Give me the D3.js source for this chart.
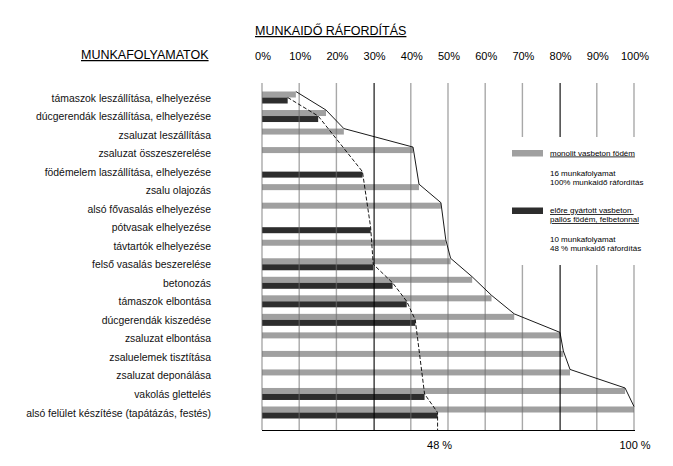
<!DOCTYPE html>
<html>
<head>
<meta charset="utf-8">
<script src="https://cdn.jsdelivr.net/npm/d3@7/dist/d3.min.js"></script>
<style>
  html, body { margin: 0; padding: 0; background: #fff; }
  svg { display: block; font-family: Arial, "Liberation Sans", sans-serif; }
</style>
</head>
<body>
<svg id="chart" width="673" height="466"></svg>
<script>
const tasks = [
  "támaszok leszállítása, elhelyezése",
  "dúcgerendák leszállítása, elhelyezése",
  "zsaluzat leszállítása",
  "zsaluzat összeszerelése",
  "födémelem laszállítása, elhelyezése",
  "zsalu olajozás",
  "alsó fővasalás elhelyezése",
  "pótvasak elhelyezése",
  "távtartók elhelyezése",
  "felső vasalás beszerelése",
  "betonozás",
  "támaszok elbontása",
  "dúcgerendák kiszedése",
  "zsaluzat elbontása",
  "zsaluelemek tisztítása",
  "zsaluzat deponálása",
  "vakolás glettelés",
  "alsó felület készítése (tapátázás, festés)"
];
// cumulative labour time, % (monolithic slab)
const monolit = [9.1, 17.2, 22.0, 40.6, null, 42.2, 48.1, null, 49.4, 50.7, 56.5, 61.7, 67.8, 80.1, 81.0, 82.8, 97.6, 100];
// cumulative labour time, % (precast plank slab with topping)
const eloregyartott = [6.9, 15.1, null, null, 27.0, null, null, 29.2, null, 29.9, 35.1, 38.9, 41.2, null, null, null, 43.7, 47.2];
const tickValues = [0, 10, 20, 30, 40, 50, 60, 70, 80, 90, 100];
const tickLabels = ["0%", "10%", "20%", "30%", "40%", "50%", "60%", "70%", "80%", "90%", "100%"];
const strongTicks = [30, 80];
const bottomLabels = ["48 %", "100 %"];
const titleText = "MUNKAIDŐ RÁFORDÍTÁS";
const rowTitle = "MUNKAFOLYAMATOK";
const legendItems = [
  { name: ["monolit vasbeton födém"], note: ["16 munkafolyamat", "100% munkaidő ráfordítás"] },
  { name: ["előre gyártott vasbeton ", "pallós födém, felbetonnal"], note: ["10 munkafolyamat", "48 % munkaidő ráfordítás"] }
];

const colGray = "#a0a0a0", colDark = "#2d2d2d";
const svg = d3.select("#chart");
const x = d3.scaleLinear().domain([0, 100]).range([262, 634]);
const y = d3.scalePoint().domain(tasks).range([97.5, 412.5]);
const gridTop = 83, gridBottom = 430, barH = 6;

// title
svg.append("text").attr("x", 255).attr("y", 35).attr("font-size", 12.5)
  .attr("text-decoration", "underline").text(titleText);
svg.append("text").attr("x", 81).attr("y", 59).attr("font-size", 12.5)
  .attr("text-decoration", "underline").text(rowTitle);

// tick labels
svg.append("g").selectAll("text").data(tickValues).join("text")
  .attr("x", d => x(d) + 1).attr("y", 60).attr("font-size", 11)
  .attr("text-anchor", "middle").text((d, i) => tickLabels[i]);

// row labels
svg.append("g").selectAll("text").data(tasks).join("text")
  .attr("x", 211).attr("y", d => y(d) + 4).attr("font-size", 10.4)
  .attr("text-anchor", "end").attr("fill", "#111").text(d => d);

// bars
const rows = tasks.map((t, i) => ({ t, m: monolit[i], e: eloregyartott[i] }));
svg.append("g").selectAll("rect").data(rows.filter(d => d.m != null)).join("rect")
  .attr("x", x(0)).attr("y", d => y(d.t) - barH)
  .attr("width", d => x(d.m) - x(0)).attr("height", barH).attr("fill", colGray);
svg.append("g").selectAll("rect").data(rows.filter(d => d.e != null)).join("rect")
  .attr("x", x(0)).attr("y", d => y(d.t))
  .attr("width", d => x(d.e) - x(0)).attr("height", barH).attr("fill", colDark);

// gridlines
svg.append("g").selectAll("line").data(tickValues.filter(d => !strongTicks.includes(d))).join("line")
  .attr("x1", d => x(d)).attr("x2", d => x(d)).attr("y1", gridTop).attr("y2", gridBottom)
  .attr("stroke", "#6e6e6e").attr("stroke-opacity", 0.6).attr("stroke-width", 1.4);
svg.append("g").selectAll("line").data(strongTicks).join("line")
  .attr("x1", d => x(d) + 0.5).attr("x2", d => x(d) + 0.5).attr("y1", gridTop).attr("y2", gridBottom)
  .attr("stroke", "#000").attr("stroke-width", 1.1);

// bottom axis line
svg.append("line").attr("x1", x(0)).attr("x2", x(100) + 1).attr("y1", gridBottom + 0.5).attr("y2", gridBottom + 0.5)
  .attr("stroke", "#000").attr("stroke-width", 1.1);

// envelope lines
const solidPts = rows.filter(d => d.m != null).map(d => [x(d.m), y(d.t) - barH]);
svg.append("path").attr("d", d3.line()(solidPts)).attr("fill", "none")
  .attr("stroke", "#000").attr("stroke-width", 0.9);
const dashPts = rows.filter(d => d.e != null).map(d => [x(d.e), y(d.t)]);
const lastE = dashPts[dashPts.length - 1];
dashPts.push([lastE[0], gridBottom]);
svg.append("path").attr("d", d3.line()(dashPts)).attr("fill", "none")
  .attr("stroke", "#000").attr("stroke-width", 0.9).attr("stroke-dasharray", "4,2");

// bottom labels
svg.append("text").attr("x", lastE[0] + 2).attr("y", 449).attr("font-size", 11)
  .attr("text-anchor", "middle").text(bottomLabels[0]);
svg.append("text").attr("x", x(100) + 1).attr("y", 449).attr("font-size", 11)
  .attr("text-anchor", "middle").text(bottomLabels[1]);

// legend
const lg = svg.append("g");
lg.append("rect").attr("x", 503).attr("y", 137).attr("width", 160).attr("height", 128).attr("fill", "#fff");
const legendY = [150, 207.5];
const legendCols = [colGray, colDark];
legendItems.forEach((it, i) => {
  const y0 = legendY[i];
  lg.append("rect").attr("x", 512).attr("y", y0).attr("width", 31).attr("height", 6.5).attr("fill", legendCols[i]);
  it.name.forEach((s, j) => {
    lg.append("text").attr("x", 550).attr("y", y0 + 5.5 + j * 9.2).attr("font-size", 8)
      .attr("text-decoration", "underline").attr("xml:space", "preserve").style("white-space", "pre").text(s);
  });
  const off = it.name.length === 1 ? 26 : 34;
  it.note.forEach((s, j) => {
    lg.append("text").attr("x", 550).attr("y", y0 + off + j * 9.2).attr("font-size", 8).text(s);
  });
});
</script>
</body>
</html>
